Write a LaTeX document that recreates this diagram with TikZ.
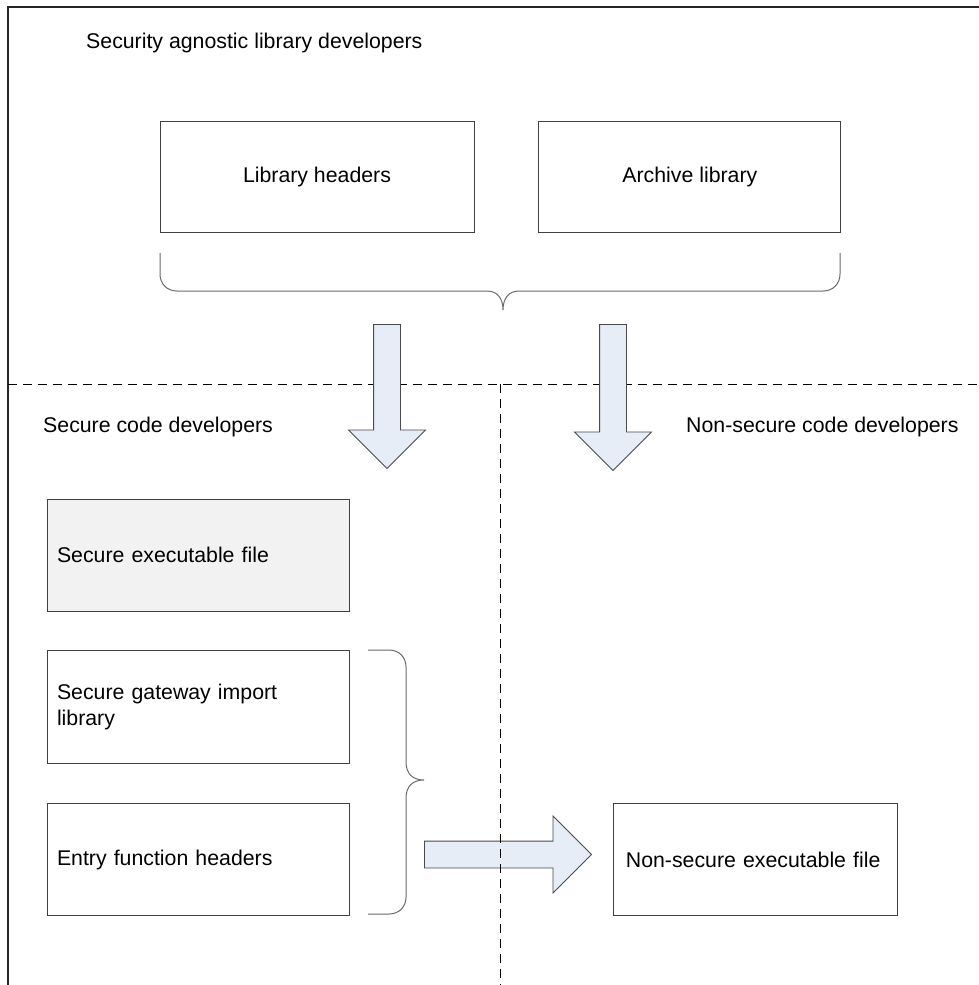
\documentclass[tikz,border=0pt]{standalone}
\usepackage{fontspec}
\setmainfont{Liberation Sans}
\usepackage{tikz}
\usetikzlibrary{positioning}
\usetikzlibrary{shapes.arrows}

\definecolor{boxline}{HTML}{404040}
\definecolor{braceline}{HTML}{6A6A6A}
\definecolor{arrowfill}{HTML}{E6EDF7}
\definecolor{arrowline}{HTML}{4A4A4A}
\definecolor{exefill}{HTML}{F2F2F2}

\begin{document}
\begin{tikzpicture}[x=1pt, y=-1pt, font=\fontsize{21.3}{26}\selectfont,
    title/.style={inner sep=0pt, anchor=base west},
    box/.style={draw=boxline, line width=0.9pt, inner sep=0pt, minimum height=111pt},
    leftbox/.style={box, align=left, text width=282pt, minimum width=302pt},
    blockarrow/.style={single arrow, draw=arrowline, fill=arrowfill, line width=0.9pt,
        inner sep=13pt, single arrow head extend=25pt, anchor=tail},
    brace/.style={draw=braceline, line width=1pt},
    lane/.style={draw=black, line width=0.9pt, dash pattern=on 9pt off 6pt}]

    \useasboundingbox (0,0) rectangle (979,985);

    % frame
    \draw[line width=1.1pt, draw=black!85] (979,7) -- (8,7) -- (8,985);
    \draw[lane] (8,384) -- (979,384);

    % library developers
    \node[title] (agnostic) at (86,48) {Security agnostic library developers};
    \node[box, minimum width=314pt] (libhdr) at (317,176.5) {Library headers};
    \node[box, minimum width=302pt, right=64pt of libhdr] (archive) {Archive library};

    \draw[brace] (160,253) -- (160,274) .. controls (160,284) and (167,291) .. (177,291)
        -- (487,291) .. controls (497,291) and (503,298) .. (503,310)
        .. controls (503,298) and (509,291) .. (519,291)
        -- (823,291) .. controls (833,291) and (840,284) .. (840,274) -- (840,253);

    \node[blockarrow, minimum height=144pt, rotate=-90] (down1) at (387,324) {};
    \node[blockarrow, minimum height=146pt, rotate=-90] (down2) at (613,324) {};

    % secure side
    \node[title] (securedev) at (43,432) {Secure code developers};
    \node[leftbox, fill=exefill, minimum height=112pt] (secexe) at (198,555) {Secure executable file};
    \node[leftbox, minimum height=113pt, below=39pt of secexe] (gateway) {Secure gateway import\\library};
    \node[leftbox, minimum height=112pt, below=39pt of gateway] (entry) {Entry function headers};

    \draw[brace] (368,650) -- (389,650) .. controls (399,650) and (406,657) .. (406,667)
        -- (406,762) .. controls (406,774) and (413,780) .. (424,780)
        .. controls (413,780) and (406,786) .. (406,798)
        -- (406,897) .. controls (406,907) and (399,914) .. (389,914) -- (368,914);

    \node[blockarrow, minimum height=167pt] (across) at (424,854.5) {};
    \draw[lane] (500,384) -- (500,985);

    % non-secure side
    \node[title] (nsdev) at (686,432) {Non-secure code developers};
    \node[box, align=left, text width=260pt, minimum width=284pt, minimum height=112pt,
        right=264pt of entry] (nsexe) {Non-secure executable file};

\end{tikzpicture}
\end{document}
